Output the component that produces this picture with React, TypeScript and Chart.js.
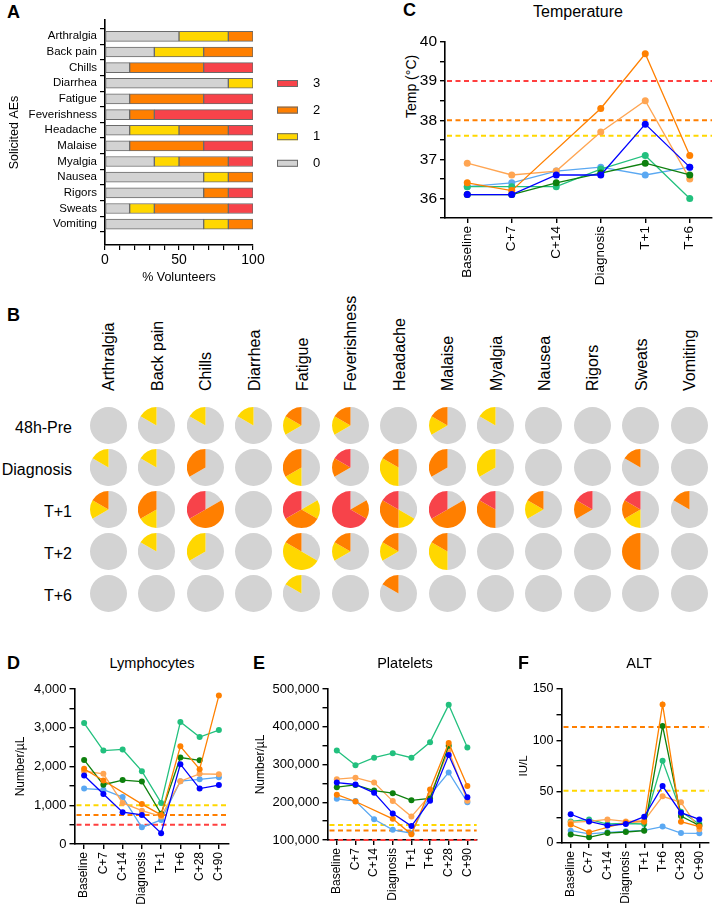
import React, { useEffect, useRef } from 'react';
import { Chart, registerables } from 'chart.js';

Chart.register(...registerables);

const FONT = '"Liberation Sans", Arial, Helvetica, sans-serif';
Chart.defaults.font.family = FONT;
Chart.defaults.color = '#000';

// ---------------- Panel A: solicited AEs (% volunteers, max grade) ----------------
const aeCategories = ['Arthralgia', 'Back pain', 'Chills', 'Diarrhea', 'Fatigue', 'Feverishness', 'Headache', 'Malaise', 'Myalgia', 'Nausea', 'Rigors', 'Sweats', 'Vomiting'];
const gradeLabels = ['0', '1', '2', '3'];
const grade0Pct = [50, 33.33, 16.67, 83.33, 16.67, 16.67, 16.67, 16.67, 33.33, 66.67, 66.67, 16.67, 66.67];
const grade1Pct = [33.33, 33.33, 0, 16.67, 0, 0, 33.33, 0, 16.67, 16.67, 0, 16.67, 16.67];
const grade2Pct = [16.67, 33.33, 50, 0, 50, 16.67, 33.33, 50, 33.33, 16.67, 16.67, 50, 16.67];
const grade3Pct = [0, 0, 33.33, 0, 33.33, 66.67, 16.67, 33.33, 16.67, 0, 16.67, 16.67, 0];
const gradeColors = ['#D3D3D3', '#FFD700', '#FF7F00', '#F7434A'];

// ---------------- Panel B: pies (counts of 6 volunteers) ----------------
const pieTimepoints = ['48h-Pre', 'Diagnosis', 'T+1', 'T+2', 'T+6'];
const pieVolunteers = 6;
const pieGrade1 = [
  [0, 1, 1, 1, 1, 1, 0, 1, 1, 0, 0, 0, 0],
  [1, 1, 0, 0, 1, 0, 2, 0, 2, 0, 0, 0, 0],
  [1, 1, 0, 0, 1, 0, 1, 0, 0, 1, 0, 1, 0],
  [0, 1, 2, 0, 3, 1, 1, 2, 0, 0, 0, 0, 0],
  [0, 0, 0, 0, 1, 0, 0, 0, 0, 0, 0, 0, 0],
];
const pieGrade2 = [
  [0, 0, 0, 0, 1, 1, 0, 1, 0, 0, 0, 0, 0],
  [0, 0, 2, 0, 2, 1, 1, 2, 0, 0, 0, 1, 0],
  [1, 2, 3, 0, 2, 1, 2, 3, 2, 1, 1, 1, 1],
  [0, 0, 0, 0, 1, 1, 1, 1, 0, 0, 0, 3, 0],
  [0, 0, 0, 0, 0, 0, 1, 0, 0, 0, 0, 0, 0],
];
const pieGrade3 = [
  [0, 0, 0, 0, 0, 0, 0, 0, 0, 0, 0, 0, 0],
  [0, 0, 0, 0, 0, 1, 0, 0, 0, 0, 0, 0, 0],
  [0, 0, 2, 0, 2, 4, 1, 2, 1, 0, 1, 1, 0],
  [0, 0, 0, 0, 0, 0, 0, 0, 0, 0, 0, 0, 0],
  [0, 0, 0, 0, 0, 0, 0, 0, 0, 0, 0, 0, 0],
];

// ---------------- Volunteer colours ----------------
const colBlue = '#0000FF';
const colOrange = '#FF8000';
const colGreen = '#0E800E';
const colLightOrange = '#FFA552';
const colTeal = '#22C07E';
const colLightBlue = '#5AA8F2';
const thrRed = '#FF3F3F';
const thrOrange = '#FF7F00';
const thrYellow = '#FFD700';

// ---------------- Panel C: temperature ----------------
const tempLabels = ['Baseline', 'C+7', 'C+14', 'Diagnosis', 'T+1', 'T+6'];
const tempBlue = [36.1, 36.1, 36.6, 36.6, 37.9, 36.8];
const tempOrange = [36.4, 36.2, null, 38.3, 39.7, 37.1];
const tempGreen = [36.1, 36.1, 36.4, 36.65, 36.9, 36.6];
const tempLightOrange = [36.9, 36.6, 36.7, 37.7, 38.5, 36.5];
const tempTeal = [36.3, 36.3, 36.3, 36.75, 37.1, 36.0];
const tempLightBlue = [36.3, 36.4, 36.7, 36.8, 36.6, 36.8];
const tempThresholds = [39.0, 38.0, 37.6];

// ---------------- Panels D-F ----------------
const labLabels = ['Baseline', 'C+7', 'C+14', 'Diagnosis', 'T+1', 'T+6', 'C+28', 'C+90'];

const lymBlue = [1770, 1290, 820, 750, 280, 2060, 1430, 1520];
const lymOrange = [1940, 1640, null, 1030, 750, 2520, 1930, 3830];
const lymGreen = [2170, 1530, 1650, 1610, 780, 2230, 2160, null];
const lymLightOrange = [1880, 1810, 1060, 860, 710, 1620, 1810, 1800];
const lymTeal = [3120, 2410, 2440, 1880, 1060, 3150, 2760, 2940];
const lymLightBlue = [1430, 1400, 1210, 430, 620, 1620, 1670, 1720];
const lymThresholds = [1000, 750, 500];

const pltBlue = [252000, 247000, 225000, 170000, 137000, 204000, 325000, 213000];
const pltOrange = [220000, 202000, null, 156000, 115000, 234000, 357000, 243000];
const pltGreen = [240000, 246000, 231000, 224000, 205000, 210000, 350000, null];
const pltLightOrange = [261000, 265000, 252000, 203000, 162000, 219000, 337000, 204000];
const pltTeal = [337000, 298000, 318000, 330000, 318000, 359000, 458000, 345000];
const pltLightBlue = [209000, 203000, 155000, 127000, 118000, 219000, 279000, 200000];
const pltThresholds = [140000, 125000, 100000];

const altBlue = [28, 21, 17, 18.5, 25.6, 55.5, 29.5, 23];
const altOrange = [18, 10.4, null, 20, 20.8, 135, 20.8, 16];
const altGreen = [8.4, 5.5, 9.7, 10.7, 12, 114, 26.3, 17];
const altLightOrange = [20, 21, 23, 21, 21.8, 45.5, 39.6, 13.3];
const altTeal = [21, 23, 18.5, 19, 18.5, 80, 30.5, 18.5];
const altLightBlue = [12, 8.8, 10.4, 11.4, 12.3, 16, 9.7, 9.4];
const altThresholds = [113, 51];

const withCommas = (v: number) => String(Math.round(v)).replace(/\B(?=(\d{3})+(?!\d))/g, ',');

function thresholdPlugin(lines: { value: number; color: string }[]) {
  return {
    id: 'thresholdLines',
    beforeDatasetsDraw(chart: any) {
      const { ctx, chartArea } = chart;
      const ys = chart.scales.y;
      ctx.save();
      ctx.lineWidth = 2;
      ctx.setLineDash([5, 3.5]);
      for (const l of lines) {
        const py = ys.getPixelForValue(l.value);
        ctx.strokeStyle = l.color;
        ctx.beginPath();
        ctx.moveTo(chartArea.left + 2, py);
        ctx.lineTo(chartArea.right, py);
        ctx.stroke();
      }
      ctx.restore();
    },
  };
}

type Series = { label: string; data: (number | null)[]; color: string };

function lineConfig(o: {
  labels: string[];
  series: Series[];
  min: number;
  max: number;
  step: number;
  tickLabel: (v: number) => string;
  yTitle?: string;
  yTitlePad?: number;
  yTitleSize?: number;
  yWidth: number;
  xHeight: number;
  padTop: number;
  padRight: number;
  thresholds: { value: number; color: string }[];
  radius: number;
  yTickSize: number;
  xTickSize: number;
}): any {
  const grid = { display: true, drawOnChartArea: false, drawTicks: true, tickLength: 5, color: '#000', lineWidth: 1.4 };
  const border = { display: true, color: '#000', width: 1.6 };
  return {
    type: 'line',
    data: {
      labels: o.labels,
      datasets: o.series.map((s) => ({
        label: s.label,
        data: s.data,
        borderColor: s.color,
        backgroundColor: s.color,
        pointBackgroundColor: s.color,
        pointBorderWidth: 0,
        pointRadius: o.radius,
        borderWidth: 1.3,
        spanGaps: true,
        tension: 0,
        clip: false,
      })),
    },
    options: {
      animation: false,
      responsive: false,
      maintainAspectRatio: false,
      events: [],
      layout: { padding: { top: o.padTop, right: o.padRight, left: 0, bottom: 0 } },
      plugins: { legend: { display: false }, tooltip: { enabled: false }, title: { display: false } },
      scales: {
        x: {
          type: 'category',
          offset: true,
          grid: { ...grid, offset: false },
          border,
          ticks: { autoSkip: false, minRotation: 90, maxRotation: 90, color: '#000', padding: 3, font: { size: o.xTickSize, family: FONT } },
          afterFit: (s: any) => {
            s.height = o.xHeight;
          },
        },
        y: {
          type: 'linear',
          min: o.min,
          max: o.max,
          grid,
          border,
          ticks: {
            stepSize: o.step,
            autoSkip: false,
            color: '#000',
            padding: 3,
            font: { size: o.yTickSize, family: FONT },
            callback: (v: any) => o.tickLabel(Number(v)),
          },
          title: o.yTitle
            ? { display: true, text: o.yTitle, color: '#000', font: { size: o.yTitleSize || 12, family: FONT }, padding: { top: o.yTitlePad || 4, bottom: 0 } }
            : { display: false },
          afterFit: (s: any) => {
            s.width = o.yWidth;
          },
        },
      },
    },
    plugins: [thresholdPlugin(o.thresholds)],
  };
}

const gradeLegendPlugin = {
  id: 'gradeLegend',
  afterDraw(chart: any) {
    const { ctx, chartArea } = chart;
    ctx.save();
    const x0 = chartArea.right + 24;
    [3, 2, 1, 0].forEach((g, k) => {
      const yc = chartArea.top + 63.5 + k * 26.6;
      ctx.fillStyle = gradeColors[g];
      ctx.fillRect(x0, yc - 3.5, 21, 7);
      ctx.strokeStyle = '#6a6a6a';
      ctx.lineWidth = 1;
      ctx.strokeRect(x0 + 0.5, yc - 3, 20, 6);
      ctx.fillStyle = '#000';
      ctx.font = `13px ${FONT}`;
      ctx.textBaseline = 'middle';
      ctx.textAlign = 'left';
      ctx.fillText(gradeLabels[g], x0 + 36, yc);
    });
    ctx.restore();
  },
};

function barConfig(): any {
  const pcts = [grade0Pct, grade1Pct, grade2Pct, grade3Pct];
  const grid = { display: true, drawOnChartArea: false, drawTicks: true, tickLength: 5, color: '#000', lineWidth: 1.2 };
  const border = { display: true, color: '#000', width: 1.6 };
  return {
    type: 'bar',
    data: {
      datasets: pcts.map((p, gi) => ({
        label: gradeLabels[gi],
        data: aeCategories.map((_, i) => ({ x: p[i], y: i })),
        backgroundColor: gradeColors[gi],
        borderColor: '#6a6a6a',
        borderWidth: 1,
        borderSkipped: false,
        barThickness: 10,
        stack: 'grades',
      })),
    },
    options: {
      indexAxis: 'y',
      animation: false,
      responsive: false,
      maintainAspectRatio: false,
      events: [],
      layout: { padding: { top: 20, right: 107, left: 0, bottom: 0 } },
      plugins: { legend: { display: false }, tooltip: { enabled: false } },
      scales: {
        x: {
          type: 'linear',
          position: 'bottom',
          stacked: true,
          min: 0,
          max: 100,
          grid,
          border,
          ticks: {
            stepSize: 10,
            autoSkip: false,
            minRotation: 0,
            maxRotation: 0,
            color: '#000',
            padding: 2,
            font: { size: 14, family: FONT },
            callback: (v: any) => (Number(v) % 50 === 0 ? String(v) : ''),
          },
          title: { display: true, text: '% Volunteers', color: '#000', font: { size: 12.5, family: FONT }, padding: { top: 2, bottom: 5 } },
          afterFit: (s: any) => {
            s.height = 45;
          },
        },
        y: {
          type: 'linear',
          reverse: true,
          min: -0.49,
          max: 12.78,
          grid,
          border,
          afterBuildTicks: (s: any) => {
            s.ticks = aeCategories.map((_, i) => ({ value: i }));
          },
          ticks: {
            autoSkip: false,
            color: '#000',
            padding: 3,
            font: { size: 11.5, family: FONT },
            callback: (v: any) => aeCategories[Math.round(Number(v))] ?? '',
          },
          title: { display: true, text: 'Solicited AEs', color: '#000', font: { size: 12.5, family: FONT }, padding: { top: 7, bottom: 0 } },
          afterFit: (s: any) => {
            s.width = 105;
          },
        },
      },
    },
    plugins: [gradeLegendPlugin],
  };
}

function ChartCanvas({ left, top, width, height, make }: { left: number; top: number; width: number; height: number; make: () => any }) {
  const ref = useRef<HTMLCanvasElement>(null);
  useEffect(() => {
    const chart = new Chart(ref.current as HTMLCanvasElement, make());
    return () => chart.destroy();
  }, []);
  return <canvas ref={ref} width={width} height={height} style={{ position: 'absolute', left, top, width, height }} />;
}

function MiniPie({ values, cx, cy }: { values: number[]; cx: number; cy: number }) {
  const ref = useRef<HTMLCanvasElement>(null);
  useEffect(() => {
    const chart = new Chart(ref.current as HTMLCanvasElement, {
      type: 'pie',
      data: { labels: gradeLabels, datasets: [{ data: values, backgroundColor: gradeColors, borderWidth: 0, hoverOffset: 0 }] },
      options: {
        animation: false,
        responsive: false,
        maintainAspectRatio: false,
        events: [],
        layout: { padding: 0 },
        plugins: { legend: { display: false }, tooltip: { enabled: false } },
      },
    } as any);
    return () => chart.destroy();
  }, []);
  const d = 37;
  return <canvas ref={ref} width={d} height={d} style={{ position: 'absolute', left: cx - d / 2, top: cy - d / 2, width: d, height: d }} />;
}

const txt = (extra: React.CSSProperties): React.CSSProperties => ({
  position: 'absolute',
  fontFamily: FONT,
  color: '#000',
  whiteSpace: 'nowrap',
  ...extra,
});

const letterStyle = (left: number, top: number) => txt({ left, top, fontSize: 18, lineHeight: '18px', fontWeight: 700 });

export default function App() {
  const volSeries = (b: any[], o: any[], g: any[], lo: any[], t: any[], lb: any[]): Series[] => [
    { label: 'Volunteer 1', data: b, color: colBlue },
    { label: 'Volunteer 2', data: o, color: colOrange },
    { label: 'Volunteer 3', data: g, color: colGreen },
    { label: 'Volunteer 4', data: lo, color: colLightOrange },
    { label: 'Volunteer 5', data: t, color: colTeal },
    { label: 'Volunteer 6', data: lb, color: colLightBlue },
  ];

  const colX = (i: number) => 108.3 + 48.4 * i;
  const rowY = (j: number) => 425 + 42 * j;

  return (
    <div style={{ position: 'absolute', left: 0, top: 0, width: 717, height: 906, background: '#fff', overflow: 'hidden', fontFamily: FONT }}>
      {/* Panel A */}
      <div style={letterStyle(7, 3)}>A</div>
      <ChartCanvas left={0} top={0} width={360} height={290} make={barConfig} />

      {/* Panel C */}
      <div style={letterStyle(403, 1)}>C</div>
      <div style={txt({ left: 478, width: 200, top: 2, textAlign: 'center', fontSize: 16, lineHeight: '20px' })}>Temperature</div>
      <div style={txt({ left: 403, top: 118, fontSize: 14, lineHeight: '16px', transform: 'rotate(-90deg)', transformOrigin: '0 0' })}>Temp (°C)</div>
      <ChartCanvas
        left={390}
        top={0}
        width={327}
        height={290}
        make={() =>
          lineConfig({
            labels: tempLabels,
            series: volSeries(tempBlue, tempOrange, tempGreen, tempLightOrange, tempTeal, tempLightBlue),
            min: 35.5,
            max: 40,
            step: 0.5,
            tickLabel: (v) => (v >= 36 && Number.isInteger(v) ? String(v) : ''),
            yWidth: 55,
            xHeight: 72,
            padTop: 42,
            padRight: 5,
            thresholds: [
              { value: tempThresholds[0], color: thrRed },
              { value: tempThresholds[1], color: thrOrange },
              { value: tempThresholds[2], color: thrYellow },
            ],
            radius: 3.5,
            yTickSize: 15.5,
            xTickSize: 13.5,
          })
        }
      />

      {/* Panel B */}
      <div style={letterStyle(7, 306)}>B</div>
      {aeCategories.map((c, i) => (
        <div key={'col' + c} style={txt({ left: colX(i) - 7, top: 391, fontSize: 16, lineHeight: '16px', transform: 'rotate(-90deg)', transformOrigin: '0 0' })}>
          {c}
        </div>
      ))}
      {pieTimepoints.map((t, j) => (
        <div key={'row' + t} style={txt({ left: 0, width: 72, top: rowY(j) - 6.5, textAlign: 'right', fontSize: 16, lineHeight: '18px' })}>
          {t}
        </div>
      ))}
      {pieTimepoints.map((t, j) =>
        aeCategories.map((c, i) => {
          const g1 = pieGrade1[j][i];
          const g2 = pieGrade2[j][i];
          const g3 = pieGrade3[j][i];
          return <MiniPie key={t + c} values={[pieVolunteers - g1 - g2 - g3, g1, g2, g3]} cx={colX(i)} cy={rowY(j)} />;
        })
      )}

      {/* Panel D */}
      <div style={letterStyle(7, 654)}>D</div>
      <div style={txt({ left: 52, width: 200, top: 654, textAlign: 'center', fontSize: 14.5, lineHeight: '18px' })}>Lymphocytes</div>
      <ChartCanvas
        left={0}
        top={650}
        width={240}
        height={256}
        make={() =>
          lineConfig({
            labels: labLabels,
            series: volSeries(lymBlue, lymOrange, lymGreen, lymLightOrange, lymTeal, lymLightBlue),
            min: 0,
            max: 4000,
            step: 500,
            tickLabel: (v) => (v % 1000 === 0 ? withCommas(v) : ''),
            yTitle: 'Number/µL',
            yTitlePad: 13,
            yTitleSize: 12,
            yWidth: 74.5,
            xHeight: 62,
            padTop: 39,
            padRight: 11.5,
            thresholds: [
              { value: lymThresholds[0], color: thrYellow },
              { value: lymThresholds[1], color: thrOrange },
              { value: lymThresholds[2], color: thrRed },
            ],
            radius: 3,
            yTickSize: 13,
            xTickSize: 12,
          })
        }
      />

      {/* Panel E */}
      <div style={letterStyle(253, 654)}>E</div>
      <div style={txt({ left: 305, width: 200, top: 654, textAlign: 'center', fontSize: 14.5, lineHeight: '18px' })}>Platelets</div>
      <ChartCanvas
        left={235}
        top={650}
        width={250}
        height={256}
        make={() =>
          lineConfig({
            labels: labLabels,
            series: volSeries(pltBlue, pltOrange, pltGreen, pltLightOrange, pltTeal, pltLightBlue),
            min: 100000,
            max: 500000,
            step: 50000,
            tickLabel: (v) => (v % 100000 === 0 ? withCommas(v) : ''),
            yTitle: 'Number/µL',
            yTitlePad: 18,
            yTitleSize: 12,
            yWidth: 92.5,
            xHeight: 66,
            padTop: 39,
            padRight: 1.5,
            thresholds: [
              { value: pltThresholds[0], color: thrYellow },
              { value: pltThresholds[1], color: thrOrange },
              { value: pltThresholds[2], color: thrRed },
            ],
            radius: 3,
            yTickSize: 13,
            xTickSize: 12,
          })
        }
      />

      {/* Panel F */}
      <div style={letterStyle(518, 654)}>F</div>
      <div style={txt({ left: 539, width: 200, top: 654, textAlign: 'center', fontSize: 14.5, lineHeight: '18px' })}>ALT</div>
      <ChartCanvas
        left={475}
        top={650}
        width={242}
        height={256}
        make={() =>
          lineConfig({
            labels: labLabels,
            series: volSeries(altBlue, altOrange, altGreen, altLightOrange, altTeal, altLightBlue),
            min: 0,
            max: 150,
            step: 25,
            tickLabel: (v) => (v % 50 === 0 ? String(v) : ''),
            yTitle: 'IU/L',
            yTitlePad: 42,
            yTitleSize: 11.5,
            yWidth: 86.5,
            xHeight: 63,
            padTop: 39,
            padRight: 0,
            thresholds: [
              { value: altThresholds[0], color: thrOrange },
              { value: altThresholds[1], color: thrYellow },
            ],
            radius: 3,
            yTickSize: 12.5,
            xTickSize: 12,
          })
        }
      />
    </div>
  );
}
